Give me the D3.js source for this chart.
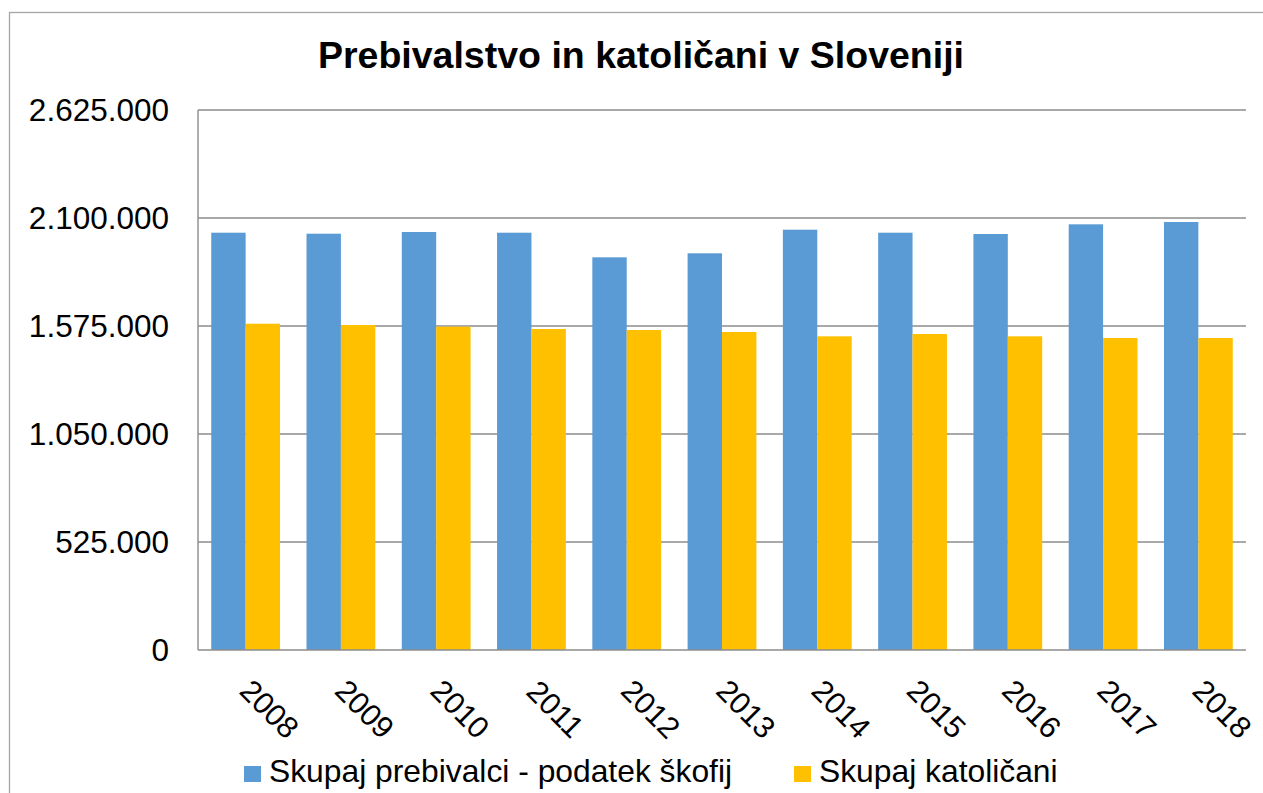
<!DOCTYPE html>
<html>
<head>
<meta charset="utf-8">
<script src="https://cdn.jsdelivr.net/npm/d3@7/dist/d3.min.js"></script>
<style>
  body { margin: 0; background: #fff; }
  svg { display: block; font-family: "Liberation Sans", Arial, sans-serif; }
</style>
</head>
<body>
<div id="chart"></div>
<script>
const years = ['2008', '2009', '2010', '2011', '2012', '2013', '2014', '2015', '2016', '2017', '2018'];
const prebivalci = [2028500, 2023700, 2031900, 2028500, 1908900, 1928400, 2043200, 2028500, 2022200, 2069300, 2080600];
const katolicani = [1586200, 1579900, 1571600, 1560400, 1555600, 1545800, 1524800, 1536100, 1524800, 1516700, 1516700];
const seriesNames = ['Skupaj prebivalci - podatek škofij', 'Skupaj katoličani'];
const yTicks = [0, 525000, 1050000, 1575000, 2100000, 2625000];
const title = 'Prebivalstvo in katoličani v Sloveniji';

const width = 1263, height = 793;
const margin = { top: 110, right: 17, bottom: 143, left: 198 };
const colors = ['#5b9bd5', '#ffc000'];

const sl = d3.formatLocale({ decimal: ',', thousands: '.', grouping: [3], currency: ['', ''] });
const fmt = sl.format(',d');

const svg = d3.select('#chart').append('svg')
  .attr('width', width).attr('height', height);

// outer chart frame (runs off the right and bottom edges)
svg.append('rect')
  .attr('x', 9.5).attr('y', 12.5)
  .attr('width', 1400).attr('height', 900)
  .attr('fill', 'none').attr('stroke', '#a6a6a6').attr('stroke-width', 1.3);

svg.append('text')
  .attr('x', 641).attr('y', 68)
  .attr('text-anchor', 'middle')
  .attr('font-size', 37.5).attr('font-weight', 'bold')
  .attr('fill', '#000')
  .text(title);

const x0 = d3.scaleBand()
  .domain(years)
  .range([margin.left, width - margin.right])
  .paddingInner(0.278).paddingOuter(0.139);

const x1 = d3.scaleBand()
  .domain([0, 1])
  .range([0, x0.bandwidth()]);

const y = d3.scaleLinear()
  .domain([0, 2625000])
  .range([height - margin.bottom, margin.top]);

// gridlines
svg.append('g')
  .selectAll('line').data(yTicks.filter(d => d > 0)).join('line')
  .attr('x1', margin.left).attr('x2', width - margin.right)
  .attr('y1', d => y(d)).attr('y2', d => y(d))
  .attr('stroke', '#8c8c8c').attr('stroke-width', 1.4);

// bars
const groups = svg.append('g')
  .selectAll('g').data(years).join('g')
  .attr('transform', d => `translate(${x0(d)},0)`);

groups.selectAll('rect')
  .data((d, i) => [prebivalci[i], katolicani[i]])
  .join('rect')
  .attr('x', (d, j) => x1(j))
  .attr('width', x1.bandwidth())
  .attr('y', d => y(d))
  .attr('height', d => y(0) - y(d))
  .attr('fill', (d, j) => colors[j]);

// axes lines
svg.append('line')
  .attr('x1', margin.left).attr('x2', margin.left)
  .attr('y1', y(2625000)).attr('y2', y(0))
  .attr('stroke', '#8c8c8c').attr('stroke-width', 1.4);
svg.append('line')
  .attr('x1', margin.left).attr('x2', width - margin.right)
  .attr('y1', y(0)).attr('y2', y(0))
  .attr('stroke', '#8c8c8c').attr('stroke-width', 1.4);

// y tick labels
svg.append('g')
  .selectAll('text').data(yTicks).join('text')
  .attr('x', 169).attr('y', d => y(d) + 11)
  .attr('text-anchor', 'end')
  .attr('font-size', 31.5).attr('fill', '#000')
  .text(d => fmt(d));

// x tick labels, rotated 45°
svg.append('g')
  .selectAll('text').data(years).join('text')
  .attr('transform', d => `translate(${x0(d) + x0.bandwidth() / 2 + 24},709) rotate(45)`)
  .attr('text-anchor', 'middle')
  .attr('dy', '0.35em')
  .attr('font-size', 30.5).attr('fill', '#000')
  .text(d => d);

// legend
const legendX = [244, 794];
const legend = svg.append('g')
  .selectAll('g').data(seriesNames).join('g')
  .attr('transform', (d, i) => `translate(${legendX[i]},766)`);
legend.append('rect')
  .attr('width', 17).attr('height', 16)
  .attr('fill', (d, i) => colors[i]);
legend.append('text')
  .attr('x', 25).attr('y', 16)
  .attr('font-size', 31.8).attr('fill', '#000')
  .text(d => d);
</script>
</body>
</html>
